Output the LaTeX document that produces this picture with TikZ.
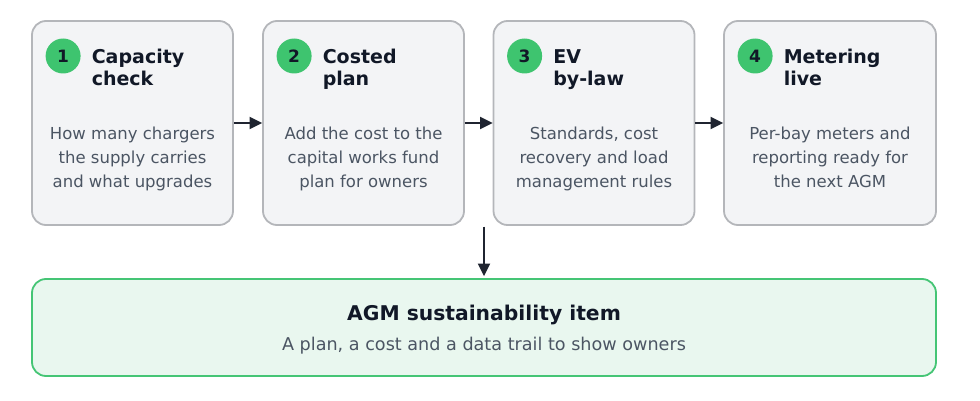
\documentclass[tikz,border=0pt]{standalone}
\usepackage{fontspec}
\setmainfont{DejaVu Sans}
\usetikzlibrary{arrows.meta}
\definecolor{boxfill}{HTML}{F3F4F6}
\definecolor{boxline}{HTML}{B4B6BA}
\definecolor{greenc}{HTML}{3EC46F}
\definecolor{greenfill}{HTML}{E9F7EF}
\definecolor{greenline}{HTML}{45C575}
\definecolor{titlec}{HTML}{111827}
\definecolor{bodyc}{HTML}{4B5563}
\definecolor{arrowc}{HTML}{1F2430}
\begin{document}
\begin{tikzpicture}[x=1pt,y=-1pt,
  stepbox/.style={draw=boxline, fill=boxfill, line width=1.8pt, rounded corners=14pt,
    minimum height=204pt, inner sep=0pt},
  numdot/.style={circle, fill=greenc, minimum size=35pt, inner sep=0pt,
    text=titlec, font=\fontsize{17}{20}\selectfont\bfseries},
  steptitle/.style={anchor=base west, inner sep=0pt, text=titlec,
    font=\fontsize{19}{22}\selectfont\bfseries},
  stepbody/.style={anchor=base, inner sep=0pt, text=bodyc,
    font=\fontsize{16.5}{24}\selectfont},
  sumbox/.style={draw=greenline, fill=greenfill, line width=1.8pt, rounded corners=14pt,
    minimum width=904pt, minimum height=97pt, inner sep=0pt},
  sumtitle/.style={anchor=base, inner sep=0pt, text=titlec,
    font=\fontsize{20.3}{24}\selectfont\bfseries},
  sumbody/.style={anchor=base, inner sep=0pt, text=bodyc,
    font=\fontsize{17.6}{21}\selectfont},
  arr/.style={draw=arrowc, line width=2pt, -{Triangle[length=12.5pt,width=12pt]}}
]
\useasboundingbox (0,0) rectangle (980,401);

\foreach \i/\cx/\w/\ta/\tb/\la/\lb/\lc in {
  1/132.5/201/{Capacity}/{check}/{How many chargers}/{the supply carries}/{and what upgrades},
  2/363.5/201/{Costed}/{plan}/{Add the cost to the}/{capital works fund}/{plan for owners},
  3/594/201/{EV}/{by-law}/{Standards, cost}/{recovery and load}/{management rules},
  4/830/212/{Metering}/{live}/{Per-bay meters and}/{reporting ready for}/{the next AGM}}
{
  \node[stepbox, minimum width=\w pt] (b\i) at (\cx,123) {};
  \node[numdot] (n\i) at ([xshift=32pt]b\i.west |- 0,56) {\i};
  \node[steptitle] (ta\i) at ([xshift=60.5pt]b\i.west |- 0,63.3) {\ta};
  \node[steptitle] (tb\i) at ([xshift=60.5pt]b\i.west |- 0,86) {\tb};
  \node[stepbody] (la\i) at (\cx,139.3) {\la};
  \node[stepbody] (lb\i) at (\cx,163.6) {\lb};
  \node[stepbody] (lc\i) at (\cx,187.9) {\lc};
}

\node[sumbox] (sum) at (484,327.5) {};
\node[sumtitle] (sumt) at (484,320) {AGM sustainability item};
\node[sumbody] (sumb) at (484,350) {A plan, a cost and a data trail to show owners};

\draw[arr] (b1.east) -- (b2.west);
\draw[arr] (b2.east) -- (b3.west);
\draw[arr] (b3.east) -- (b4.west);
\coordinate (split) at (484,226.5);
\draw[arr, shorten >=2pt] (split) -- (sum.north);
\end{tikzpicture}
\end{document}
